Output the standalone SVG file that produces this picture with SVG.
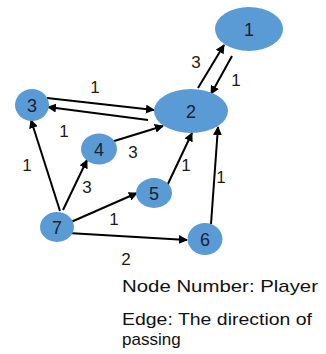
<svg xmlns="http://www.w3.org/2000/svg" width="326" height="354" viewBox="0 0 326 354">
<style>
.node{fill:#5B9BD5}
.nl{font-family:"Liberation Sans",Arial,sans-serif;font-size:18px;fill:#1a2230;text-anchor:middle}
.el{font-family:"Liberation Sans",Arial,sans-serif;font-size:17px;fill:#221a10;text-anchor:middle}
.edge{stroke:#000;stroke-width:2;fill:none;marker-end:url(#ah)}
.cap{font-family:"Liberation Sans",Arial,sans-serif;font-size:17px;fill:#111}
</style>
<defs>
<marker id="ah" viewBox="0 0 10 10" refX="9" refY="5" markerWidth="4.5" markerHeight="4.5" orient="auto" markerUnits="strokeWidth">
<path d="M0,0 L10,5 L0,10 z" fill="#000"/>
</marker>
</defs>
<rect width="326" height="354" fill="#fff"/>
<g id="connectors">
<line class="edge" x1="198" y1="88" x2="224" y2="45"/>
<line class="edge" x1="232" y1="56" x2="211" y2="94"/>
<line class="edge" x1="47" y1="98" x2="154" y2="110"/>
<line class="edge" x1="148" y1="120" x2="48" y2="107"/>
<line class="edge" x1="111" y1="142" x2="163" y2="126"/>
<line class="edge" x1="166" y1="188" x2="192" y2="133"/>
<line class="edge" x1="211" y1="224" x2="218" y2="127"/>
<line class="edge" x1="60" y1="211" x2="31" y2="120"/>
<line class="edge" x1="63" y1="210" x2="87" y2="160"/>
<line class="edge" x1="71" y1="222" x2="137" y2="193"/>
<line class="edge" x1="68" y1="233" x2="187" y2="240"/>
<text class="el" x="196" y="68">3</text>
<text class="el" x="236" y="86">1</text>
<text class="el" x="95" y="93">1</text>
<text class="el" x="64" y="137">1</text>
<text class="el" x="133" y="158">3</text>
<text class="el" x="186" y="171">1</text>
<text class="el" x="221" y="183">1</text>
<text class="el" x="27" y="171">1</text>
<text class="el" x="87" y="193">3</text>
<text class="el" x="114" y="225">1</text>
<text class="el" x="126" y="265">2</text>
</g>
<g id="n1"><ellipse class="node" cx="249" cy="29" rx="34" ry="22"/><text class="nl" x="249" y="36">1</text></g>
<g id="n2"><ellipse class="node" cx="191" cy="111" rx="37" ry="22"/><text class="nl" x="191" y="118">2</text></g>
<g id="n3"><ellipse class="node" cx="32" cy="105" rx="17" ry="16"/><text class="nl" x="32" y="112">3</text></g>
<g id="n4"><ellipse class="node" cx="99" cy="149" rx="18" ry="15.5"/><text class="nl" x="99" y="156">4</text></g>
<g id="n5"><ellipse class="node" cx="154" cy="193" rx="18" ry="15"/><text class="nl" x="154" y="200">5</text></g>
<g id="n6"><ellipse class="node" cx="205" cy="239" rx="17.5" ry="16"/><text class="nl" x="205" y="246">6</text></g>
<g id="n7"><ellipse class="node" cx="57" cy="227" rx="17" ry="15"/><text class="nl" x="57" y="234">7</text></g>
<g id="caption">
<text class="cap" x="122" y="292" textLength="196" lengthAdjust="spacingAndGlyphs">Node Number: Player</text>
<text class="cap" x="122" y="325" textLength="190" lengthAdjust="spacingAndGlyphs">Edge: The direction of</text>
<text class="cap" x="122" y="345">passing</text>
</g>
</svg>
